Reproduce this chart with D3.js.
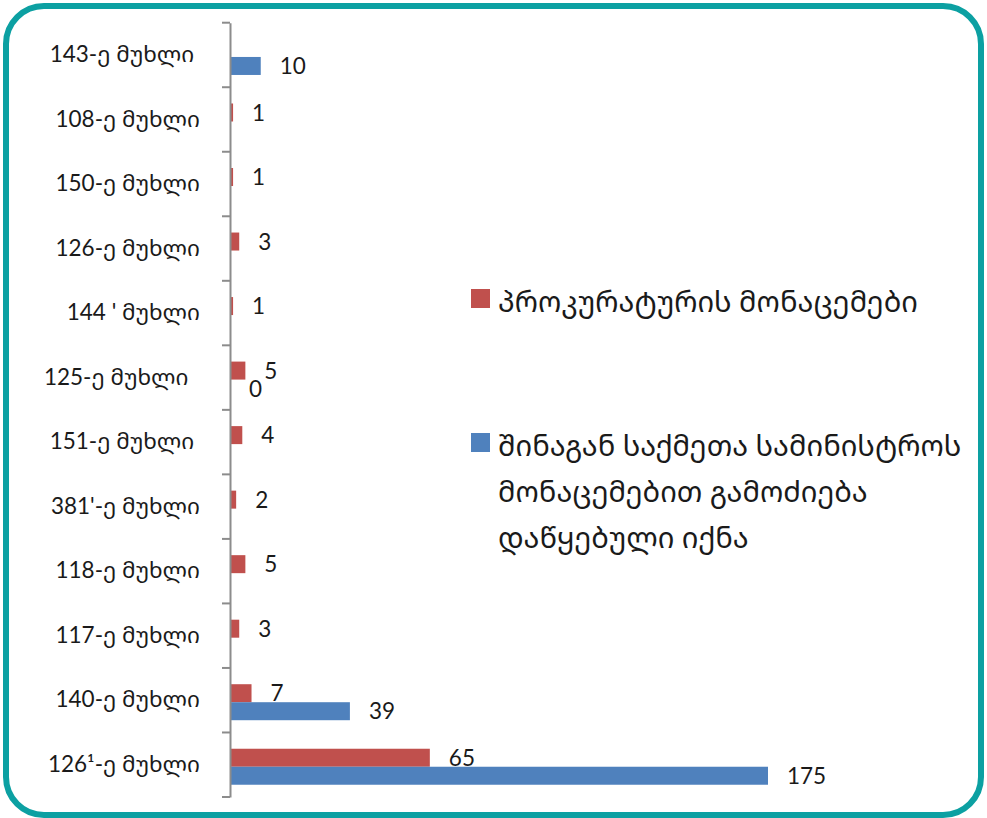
<!DOCTYPE html>
<html>
<head>
<meta charset="utf-8">
<script src="https://cdn.jsdelivr.net/npm/d3@7"></script>
<style>
  body { margin: 0; background: #fff; }
  text { font-family: "Lato", "Noto Sans Georgian", "DejaVu Sans", sans-serif; fill: #1a1a1a; }
</style>
</head>
<body>
<div id="chart"></div>
<script>
var svgWidth = 987;
var svgHeight = 818;

// data
var categories = ["143-ე მუხლი ", "108-ე მუხლი", "150-ე მუხლი", "126-ე მუხლი", "144 ' მუხლი",
  "125-ე მუხლი  ", "151-ე მუხლი ", "381'-ე მუხლი", "118-ე მუხლი", "117-ე მუხლი",
  "140-ე მუხლი", "126¹-ე მუხლი"];
var prosecutorValues = [null, 1, 1, 3, 1, 5, 4, 2, 5, 3, 7, 65];
var ministryValues = [10, null, null, null, null, 0, null, null, null, null, 39, 175];
var legendLines = [["პროკურატურის მონაცემები"],
  ["შინაგან საქმეთა სამინისტროს", "მონაცემებით გამოძიება", "დაწყებული იქნა"]];
var colors = ["#C0504D", "#4F81BD"];

var svg = d3.select("#chart")
  .append("svg")
  .attr("width", svgWidth)
  .attr("height", svgHeight);

// rounded teal frame
svg.append("rect")
  .attr("x", 6).attr("y", 6)
  .attr("width", 975).attr("height", 809)
  .attr("rx", 38).attr("ry", 38)
  .attr("fill", "none")
  .attr("stroke", "#0CA0A2")
  .attr("stroke-width", 6);

var x = d3.scaleLinear()
  .domain([0, 175])
  .range([230, 768]);

var y = d3.scaleBand()
  .domain(categories)
  .range([22.7, 797]);

var sub = d3.scaleBand()
  .domain([0, 1])
  .range([y.bandwidth() / 2 - 16, y.bandwidth() / 2 + 20]);

// build rows from the arrays
var rows = [];
categories.forEach(function(c, i) {
  [prosecutorValues[i], ministryValues[i]].forEach(function(v, s) {
    if (v !== null) rows.push({ cat: c, s: s, value: v });
  });
});

svg.selectAll("rect.bar")
  .data(rows)
  .enter()
  .append("rect")
  .attr("class", "bar")
  .attr("x", x(0))
  .attr("y", d => y(d.cat) + sub(d.s))
  .attr("width", d => x(d.value) - x(0))
  .attr("height", sub.bandwidth())
  .attr("fill", d => colors[d.s]);

svg.selectAll("text.val")
  .data(rows)
  .enter()
  .append("text")
  .attr("class", "val")
  .attr("x", d => x(d.value) + 19)
  .attr("y", d => y(d.cat) + sub(d.s) + sub.bandwidth() / 2)
  .attr("dy", "0.36em")
  .attr("font-size", 22.5)
  .text(d => d.value);

// axis: labels at band centres, ticks at band edges
var leftAxis = d3.axisLeft(y).tickSize(0).tickPadding(30);
var axisG = svg.append("g")
  .attr("transform", `translate(${x(0)}, 0)`)
  .call(leftAxis);
axisG.select(".domain").attr("stroke", "#8C8C8C").attr("stroke-width", 2);
axisG.selectAll(".tick text")
  .attr("font-size", 22.5)
  .style("white-space", "pre")
  .attr("fill", "#1a1a1a");

var edges = categories.map(c => y(c)).concat([y.range()[1]]);
axisG.selectAll("line.edge")
  .data(edges)
  .enter()
  .append("line")
  .attr("class", "edge")
  .attr("x1", -8).attr("x2", 0)
  .attr("y1", d => d).attr("y2", d => d)
  .attr("stroke", "#8C8C8C")
  .attr("stroke-width", 2);

// legend
var legendY = [289, 433];
var legend = svg.selectAll("g.legend")
  .data(legendLines)
  .enter()
  .append("g")
  .attr("class", "legend")
  .attr("transform", (d, i) => `translate(471, ${legendY[i]})`);

legend.append("rect")
  .attr("width", 19).attr("height", 19)
  .attr("fill", (d, i) => colors[i]);

legend.selectAll("text")
  .data(d => d)
  .enter()
  .append("text")
  .attr("x", 27)
  .attr("y", (d, j) => 23 + j * 46)
  .attr("font-size", 29)
  .text(d => d);
</script>
</body>
</html>
